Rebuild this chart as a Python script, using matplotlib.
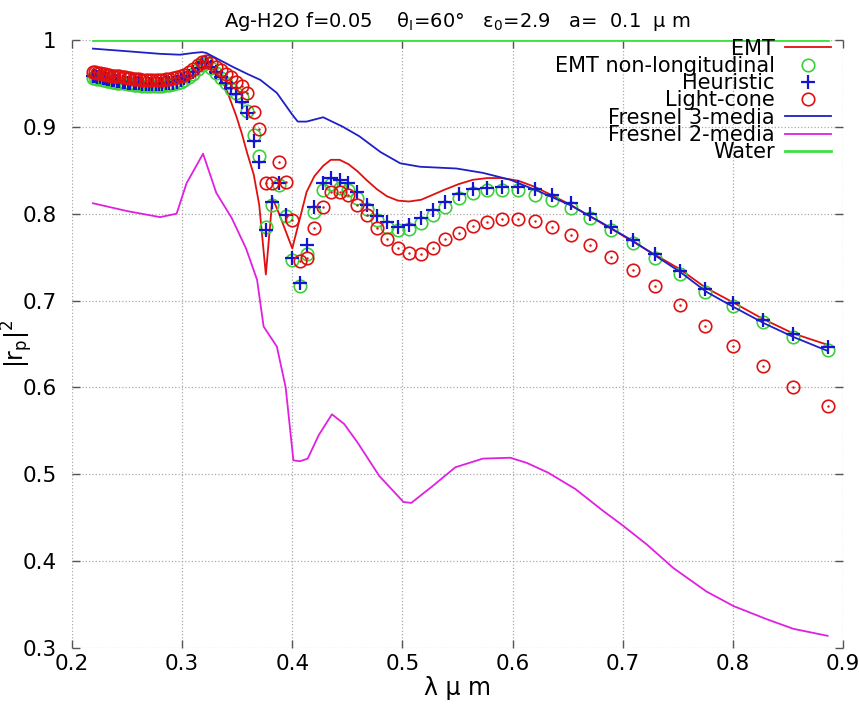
import matplotlib
matplotlib.use('Agg')
import matplotlib.pyplot as plt

# wavelengths (um) of the computed points
lam = [0.219, 0.221, 0.223, 0.225, 0.228, 0.230, 0.232, 0.234, 0.236, 0.238,
       0.241, 0.243, 0.246, 0.248, 0.251, 0.253, 0.256, 0.258, 0.261, 0.264,
       0.267, 0.270, 0.273, 0.276, 0.279, 0.282, 0.285, 0.288, 0.292,
       0.295, 0.299, 0.302, 0.306, 0.310, 0.314, 0.318, 0.322, 0.326, 0.331,
       0.335, 0.340, 0.344, 0.349, 0.354, 0.359, 0.365, 0.370, 0.376, 0.382,
       0.388, 0.394, 0.400, 0.407, 0.413, 0.420, 0.428, 0.435, 0.443, 0.451,
       0.459, 0.468, 0.477, 0.486, 0.496, 0.506, 0.517, 0.528, 0.539, 0.551,
       0.564, 0.577, 0.590, 0.605, 0.620, 0.636, 0.653, 0.670, 0.689, 0.709,
       0.729, 0.752, 0.775, 0.800, 0.827, 0.855, 0.886]

emt = [0.960, 0.960, 0.959, 0.959, 0.958, 0.958, 0.957, 0.957, 0.956, 0.956,
       0.955, 0.955, 0.954, 0.954, 0.953, 0.953, 0.952, 0.952, 0.952, 0.951,
       0.951, 0.951, 0.951, 0.951, 0.951, 0.951, 0.952, 0.952, 0.953,
       0.954, 0.956, 0.958, 0.961, 0.965, 0.970, 0.976, 0.978, 0.970, 0.962,
       0.955, 0.944, 0.930, 0.913, 0.893, 0.870, 0.845, 0.810, 0.730, 0.818,
       0.800, 0.780, 0.760, 0.795, 0.825, 0.843, 0.855, 0.862, 0.862, 0.857,
       0.849, 0.838, 0.828, 0.820, 0.815, 0.814, 0.816, 0.822, 0.828, 0.834,
       0.839, 0.841, 0.841, 0.838, 0.831, 0.821, 0.810, 0.797, 0.783, 0.768,
       0.753, 0.736, 0.715, 0.698, 0.679, 0.662, 0.649]

emt_nl = [0.956, 0.956, 0.955, 0.955, 0.954, 0.954, 0.953, 0.953, 0.952, 0.952,
          0.951, 0.951, 0.950, 0.950, 0.949, 0.949, 0.948, 0.948, 0.948, 0.947,
          0.947, 0.947, 0.947, 0.947, 0.947, 0.947, 0.948, 0.948, 0.949,
          0.950, 0.952, 0.954, 0.957, 0.961, 0.966, 0.971, 0.973, 0.968, 0.962,
          0.956, 0.950, 0.944, 0.939, 0.934, 0.918, 0.890, 0.866, 0.785, 0.810,
          0.833, 0.797, 0.747, 0.717, 0.754, 0.802, 0.827, 0.834, 0.830, 0.827,
          0.818, 0.805, 0.793, 0.785, 0.781, 0.782, 0.789, 0.799, 0.808, 0.818,
          0.824, 0.827, 0.827, 0.827, 0.822, 0.816, 0.807, 0.795, 0.781, 0.766,
          0.749, 0.731, 0.710, 0.694, 0.675, 0.658, 0.643]

heuristic = [0.958, 0.958, 0.957, 0.957, 0.956, 0.956, 0.955, 0.955, 0.954, 0.954,
             0.953, 0.953, 0.952, 0.952, 0.951, 0.951, 0.950, 0.950, 0.950, 0.949,
             0.949, 0.949, 0.949, 0.949, 0.949, 0.949, 0.950, 0.950, 0.951,
             0.952, 0.954, 0.956, 0.959, 0.963, 0.968, 0.973, 0.975, 0.969, 0.963,
             0.957, 0.951, 0.945, 0.938, 0.929, 0.916, 0.884, 0.860, 0.781, 0.814,
             0.835, 0.799, 0.749, 0.720, 0.764, 0.808, 0.835, 0.841, 0.839, 0.835,
             0.825, 0.810, 0.797, 0.790, 0.785, 0.787, 0.795, 0.804, 0.814, 0.823,
             0.828, 0.830, 0.831, 0.831, 0.828, 0.822, 0.812, 0.800, 0.785, 0.770,
             0.753, 0.734, 0.713, 0.697, 0.678, 0.661, 0.646]

light_cone = [0.963, 0.963, 0.962, 0.962, 0.961, 0.961, 0.960, 0.960, 0.959, 0.959,
              0.958, 0.958, 0.957, 0.957, 0.956, 0.956, 0.955, 0.955, 0.955, 0.954,
              0.954, 0.954, 0.954, 0.954, 0.954, 0.954, 0.955, 0.955, 0.956,
              0.957, 0.958, 0.960, 0.963, 0.966, 0.971, 0.975, 0.976, 0.973, 0.969,
              0.965, 0.961, 0.957, 0.952, 0.947, 0.939, 0.917, 0.897, 0.835, 0.835,
              0.860, 0.836, 0.793, 0.745, 0.749, 0.783, 0.808, 0.825, 0.825, 0.822,
              0.810, 0.799, 0.784, 0.771, 0.760, 0.755, 0.754, 0.760, 0.771, 0.778,
              0.786, 0.790, 0.794, 0.794, 0.791, 0.785, 0.775, 0.764, 0.750, 0.735,
              0.717, 0.695, 0.671, 0.648, 0.625, 0.601, 0.578]

lam_f3 = [0.219, 0.250, 0.280, 0.298, 0.310, 0.318, 0.322, 0.334, 0.346, 0.359,
          0.371, 0.386, 0.400, 0.405, 0.413, 0.428, 0.446, 0.461, 0.480, 0.498,
          0.516, 0.549, 0.573, 0.598, 0.625, 0.652, 0.679, 0.710, 0.752, 0.776,
          0.800, 0.828, 0.855, 0.886]
fresnel3 = [0.990, 0.987, 0.984, 0.983, 0.985, 0.986, 0.985, 0.977, 0.969, 0.961,
            0.954, 0.939, 0.914, 0.906, 0.906, 0.911, 0.900, 0.889, 0.871, 0.858,
            0.854, 0.852, 0.847, 0.839, 0.825, 0.810, 0.791, 0.768, 0.733, 0.710,
            0.693, 0.674, 0.658, 0.642]

lam_f2 = [0.219, 0.250, 0.280, 0.295, 0.304, 0.319, 0.331, 0.345, 0.358, 0.368,
          0.374, 0.386, 0.394, 0.401, 0.407, 0.414, 0.424, 0.436, 0.447, 0.459,
          0.479, 0.501, 0.508, 0.528, 0.548, 0.573, 0.598, 0.613, 0.632, 0.657,
          0.682, 0.699, 0.722, 0.746, 0.776, 0.801, 0.831, 0.855, 0.886]
fresnel2 = [0.812, 0.803, 0.796, 0.800, 0.835, 0.869, 0.824, 0.795, 0.760, 0.724,
            0.670, 0.647, 0.600, 0.516, 0.515, 0.518, 0.545, 0.569, 0.558, 0.537,
            0.498, 0.468, 0.467, 0.487, 0.508, 0.518, 0.519, 0.513, 0.502, 0.483,
            0.458, 0.442, 0.419, 0.392, 0.365, 0.348, 0.333, 0.322, 0.314]

lam_water = [0.219, 0.886]
water = [1.0, 1.0]

xticks = [0.2, 0.3, 0.4, 0.5, 0.6, 0.7, 0.8, 0.9]
yticks = [0.3, 0.4, 0.5, 0.6, 0.7, 0.8, 0.9, 1.0]
ytick_labels = ['0.3', '0.4', '0.5', '0.6', '0.7', '0.8', '0.9', '1']

plt.rcParams['font.family'] = ['DejaVu Sans']
plt.rcParams['mathtext.fontset'] = 'dejavusans'

fig = plt.figure(figsize=(8.59, 7.07), dpi=100)
ax = fig.add_axes([0.0838, 0.0835, 0.8976, 0.860])

ax.plot(lam, emt, color='#e01010', lw=1.3, label='EMT')
ax.plot(lam, emt_nl, ls='none', marker='o', ms=9, mfc='none', mec='#3dd03d',
        mew=1.2, label='EMT non-longitudinal')
ax.plot(lam, heuristic, ls='none', marker='+', ms=10, mec='#1515d0', mew=1.6,
        label='Heuristic')
ax.plot(lam, light_cone, ls='none', marker='o', ms=9, mfc='none', mec='#e01010',
        mew=1.2, label='Light-cone')
# gnuplot draws a little dot in the middle of each open circle
ax.plot(lam, light_cone, ls='none', marker='.', ms=1.5, color='#e01010')
ax.plot(lam_f3, fresnel3, color='#1f1fc8', lw=1.3, label='Fresnel 3-media')
ax.plot(lam_f2, fresnel2, color='#e020e0', lw=1.3, label='Fresnel 2-media')
ax.plot(lam_water, water, color='#40e040', lw=2.0, label='Water')

ax.set_xlim(0.2, 0.9)
ax.set_ylim(0.3, 1.0)
ax.set_xticks(xticks)
ax.set_xticklabels([str(v) for v in xticks])
ax.set_yticks(yticks)
ax.set_yticklabels(ytick_labels)
ax.tick_params(direction='in', length=6, width=1.0, color='#555555',
               top=True, right=True, labelsize=15.5)
ax.tick_params(axis='y', pad=11)
ax.tick_params(axis='x', pad=4)
for s in ax.spines.values():
    s.set_visible(False)
ax.grid(True, ls=':', color='#aaaaaa', lw=0.9)
ax.set_axisbelow(True)

ax.set_xlabel('λ µ m', fontsize=17, labelpad=2)
ax.set_ylabel('|r$_\\mathregular{p}$|$^\\mathregular{2}$', fontsize=17)
ax.yaxis.set_label_coords(-0.048, 0.5)
ax.set_title('Ag-H2O f=0.05    θ$_\\mathregular{I}$=60°   ε$_\\mathregular{0}$=2.9   a=  0.1  µ m',
             fontsize=14, pad=9)

handles, labels = ax.get_legend_handles_labels()
leg = ax.legend(handles, labels, loc='upper right', markerfirst=False, frameon=False,
                fontsize=15, labelspacing=-0.13, handlelength=2.2, handletextpad=0.5,
                borderaxespad=0.0, bbox_to_anchor=(0.995, 1.016))

plt.savefig('out.png', dpi=100)
plt.close()
